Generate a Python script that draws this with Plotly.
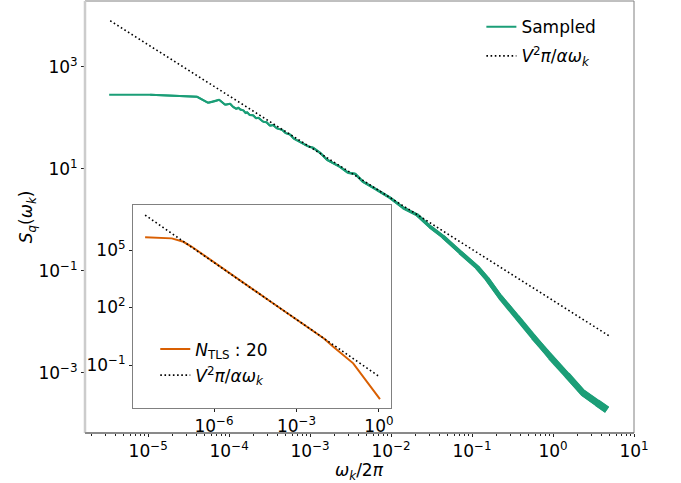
import numpy as np
import plotly.graph_objects as go

# ---------------- data ----------------
sampled_f = [3.30e-6, 1.06e-5, 4.03e-5, 5.51e-5, 6.34e-5, 7.53e-5, 8.93e-5, 1.03e-4,
             1.12e-4, 1.23e-4, 1.30e-4, 1.37e-4, 1.50e-4, 1.60e-4, 1.67e-4, 1.80e-4,
             1.98e-4, 2.15e-4, 2.30e-4, 2.63e-4, 2.90e-4, 3.20e-4, 3.49e-4, 3.90e-4,
             4.51e-4, 5.00e-4, 5.66e-4, 6.30e-4, 7.31e-4, 8.50e-4, 9.50e-4, 1.09e-3,
             1.33e-3, 1.62e-3, 2.34e-3, 2.94e-3, 3.60e-3, 4.51e-3, 6.71e-3, 9.73e-3,
             1.41e-2, 2.09e-2, 3.03e-2, 4.39e-2, 7.11e-2, 0.115, 0.153, 0.222,
             0.360, 0.566, 0.918, 1.49, 2.34, 3.49, 4.65]
sampled_S = [282, 282, 258, 197, 206, 225, 180, 188,
             164, 150, 158, 145, 140, 124, 128, 113,
             112, 98, 100, 84, 82, 70, 72, 62,
             58, 50, 47, 39, 34.5, 30, 27.5, 25.8,
             20.6, 15.0, 10.9, 8.36, 7.98, 5.56, 3.87, 2.70,
             1.72, 1.25, 0.730, 0.465, 0.230, 0.118, 0.0700, 0.0309,
             0.0125, 5.08e-3, 2.06e-3, 9.14e-4, 4.06e-4, 2.58e-4, 1.88e-4]

theory_f = [3.40e-6, 4.91]
theory_S = [7980, 5.31e-3]

inset_f = [3.1e-9, 2.9e-8, 7.66e-8, 1.55e-7, 1e-4, 1e-2, 2.18e-2, 0.116, 1.09]
inset_S = [4.58e5, 4.06e5, 2.70e5, 1.48e5, 232, 2.44, 0.902, 0.123, 1.68e-3]

inset_theory_f = [3.1e-9, 1.09]
inset_theory_S = [6.68e6, 0.0237]

main_xticks = [1e-5, 1e-4, 1e-3, 1e-2, 1e-1, 1e0, 1e1]
main_xlabels = ["10<sup>−5</sup>", "10<sup>−4</sup>", "10<sup>−3</sup>", "10<sup>−2</sup>",
                "10<sup>−1</sup>", "10<sup>0</sup>", "10<sup>1</sup>"]
main_yticks = [1e3, 1e1, 1e-1, 1e-3]
main_ylabels = ["10<sup>3</sup>", "10<sup>1</sup>", "10<sup>−1</sup>", "10<sup>−3</sup>"]
inset_xticks = [1e-6, 1e-3, 1e0]
inset_xlabels = ["10<sup>−6</sup>", "10<sup>−3</sup>", "10<sup>0</sup>"]
inset_yticks = [1e5, 1e2, 1e-1]
inset_ylabels = ["10<sup>5</sup>", "10<sup>2</sup>", "10<sup>−1</sup>"]

# style: apparent thickness of the noisy sampled curve vs. log10 frequency
width_at_logf = [-6.0, -3.2, -2.0, -1.5, -1.0, 0.0, 0.7]
width_values = [2.0, 2.0, 2.6, 3.6, 4.6, 5.8, 7.5]

GREEN = "#1b9e77"
ORANGE = "#d95f02"
FONT = "DejaVu Sans"
FS = 17
THEORY_NAME = "<i>V</i><sup>2</sup><i>π</i>/<i>αω</i><sub><i>k</i></sub>"

fig = go.Figure()

fa = np.array(sampled_f)
sa = np.array(sampled_S)
n = len(fa)
for i in range(n - 1):
    a, b = i, min(i + 3, n)
    mid = 0.5 * (np.log10(fa[i]) + np.log10(fa[i + 1]))
    w = float(np.interp(mid, width_at_logf, width_values))
    fig.add_trace(go.Scatter(
        x=fa[a:b], y=sa[a:b], mode="lines",
        line=dict(color=GREEN, width=w),
        name="Sampled", showlegend=(i == 0), legendgroup="g1",
        legend="legend", xaxis="x", yaxis="y", hoverinfo="skip"))

fig.add_trace(go.Scatter(
    x=theory_f, y=theory_S, mode="lines",
    line=dict(color="black", width=1.6, dash="1.6px,2.6px"),
    name=THEORY_NAME, legendgroup="g2", legend="legend", xaxis="x", yaxis="y"))

# inset
fig.add_trace(go.Scatter(
    x=inset_f, y=inset_S, mode="lines",
    line=dict(color=ORANGE, width=2),
    name="<i>N</i><sub>TLS</sub> : 20", legendgroup="h1",
    legend="legend2", xaxis="x2", yaxis="y2"))
fig.add_trace(go.Scatter(
    x=inset_theory_f, y=inset_theory_S, mode="lines",
    line=dict(color="black", width=1.6, dash="1.6px,2.6px"),
    name=THEORY_NAME, legendgroup="h2",
    legend="legend2", xaxis="x2", yaxis="y2"))

W, H = 681, 483
L, R, T, B = 85, 47, 1, 50

axis_common = dict(showgrid=False, zeroline=False, ticks="outside", ticklen=3,
                   tickwidth=1, tickcolor="#222", tickfont=dict(family=FONT, size=FS, color="black"))

fig.update_layout(
    width=W, height=H,
    margin=dict(l=L, r=R, t=T, b=B, autoexpand=False),
    paper_bgcolor="white", plot_bgcolor="white",
    font=dict(family=FONT, size=FS, color="black"),
    xaxis=dict(type="log", range=[-5.78, 1.0], domain=[0, 1],
               tickvals=main_xticks, ticktext=main_xlabels,
               minor=dict(ticks="outside", ticklen=2, tickcolor="#222", dtick="D1"),
               showline=False, **axis_common),
    yaxis=dict(type="log", range=[-4.18, 4.29], domain=[0, 1],
               tickvals=main_yticks, ticktext=main_ylabels,
               showline=False, **axis_common),
    xaxis2=dict(type="log", range=[-8.95, 0.44], domain=[0.0874, 0.5574], anchor="y2",
                tickvals=inset_xticks, ticktext=inset_xlabels,
                showline=True, linecolor="#808080", linewidth=1, mirror=True, **axis_common),
    yaxis2=dict(type="log", range=[-3.24, 7.35], domain=[0.0579, 0.5278], anchor="x2",
                tickvals=inset_yticks, ticktext=inset_ylabels,
                showline=True, linecolor="#808080", linewidth=1, mirror=True, **axis_common),
    legend=dict(x=0.722, y=0.981, xanchor="left", yanchor="top",
                bgcolor="rgba(0,0,0,0)", borderwidth=0,
                tracegroupgap=4, font=dict(family=FONT, size=FS)),
    legend2=dict(x=0.128, y=0.235, xanchor="left", yanchor="top",
                 bgcolor="rgba(0,0,0,0)", borderwidth=0,
                 tracegroupgap=1, font=dict(family=FONT, size=FS)),
    shapes=[
        dict(type="rect", xref="paper", yref="paper", x0=0, x1=1, y0=0, y1=1,
             line=dict(color="#808080", width=1), layer="above"),
        dict(type="line", xref="paper", yref="paper", x0=0, x1=0, y0=0, y1=1,
             line=dict(color="#cccccc", width=2.5), layer="above"),
        dict(type="line", xref="paper", yref="paper", x0=0, x1=1, y0=0, y1=0,
             line=dict(color="#555555", width=1), layer="above"),
    ],
    annotations=[
        dict(text="<i>S</i><sub><i>q</i></sub>(<i>ω</i><sub><i>k</i></sub>)",
             xref="paper", yref="paper", x=-0.105, y=0.5, textangle=-90,
             showarrow=False, font=dict(family=FONT, size=FS), xanchor="center", yanchor="middle"),
        dict(text="<i>ω</i><sub><i>k</i></sub>/2<i>π</i>",
             xref="paper", yref="paper", x=0.5, y=-0.058, showarrow=False,
             font=dict(family=FONT, size=FS), xanchor="center", yanchor="top"),
    ],
)

fig.write_html("out.html",
               config={"displayModeBar": False},
               post_script="document.body.style.margin='0';document.body.style.padding='0';"
                           "document.documentElement.style.overflow='hidden';")
